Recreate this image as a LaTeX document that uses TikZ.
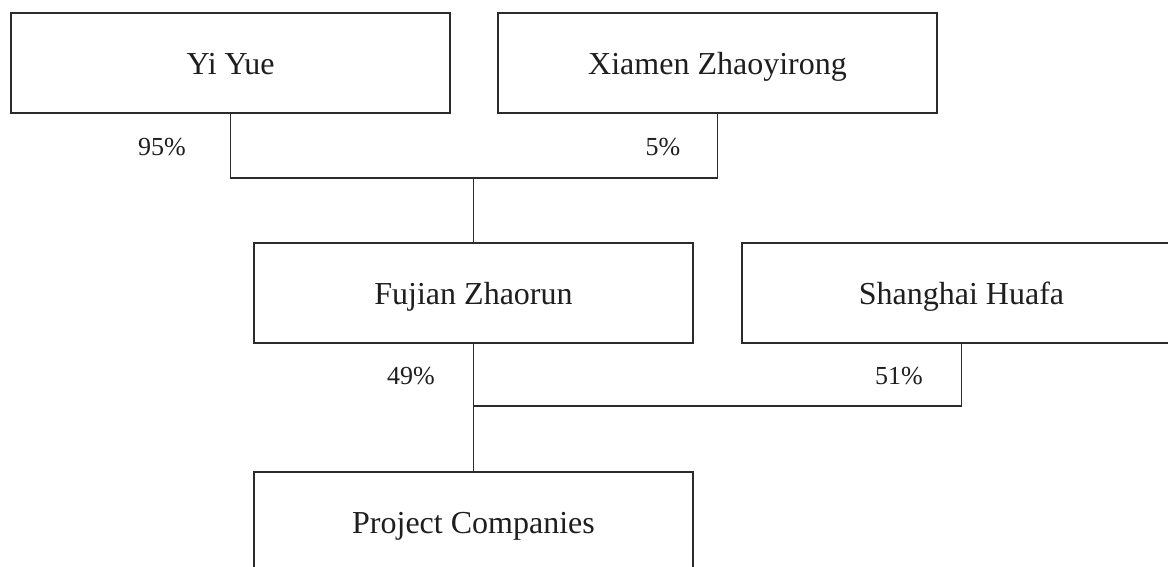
\documentclass[tikz,border=0pt]{standalone}
\usepackage{fontspec}
\setmainfont{Liberation Serif}
\definecolor{linec}{HTML}{2B2B2B}
\definecolor{textc}{HTML}{1E1E1E}
\begin{document}
\begin{tikzpicture}[x=1pt,y=-1pt,
  entity/.style={draw=linec, line width=1.3pt, fill=white, minimum width=439pt, minimum height=100pt, inner sep=0pt, text height=22pt, text depth=0pt, text=textc, font=\fontsize{32}{38}\selectfont},
  pct/.style={inner sep=0pt, text=textc, font=\fontsize{26}{31}\selectfont},
  link/.style={draw=linec, line width=1.3pt}]
\useasboundingbox (0,0) rectangle (1168,566);
\clip (0,0) rectangle (1168,566);
\fill[white] (0,0) rectangle (1168,566);
\node[entity] (yiyue) at (230.5,63) {Yi Yue};
\node[entity] (xiamen) at (717.5,63) {Xiamen Zhaoyirong};
\node[entity] (fujian) at (473.5,293) {Fujian Zhaorun};
\node[entity] (shanghai) at (961.5,293) {Shanghai Huafa};
\node[entity] (project) at (473.5,522) {Project Companies};
\coordinate (j1) at (473.5,178);
\coordinate (j2) at (473.5,406);
\draw[link] (yiyue.south) -- (yiyue.south |- j1) -- (xiamen.south |- j1) -- (xiamen.south);
\draw[link] (j1) -- (fujian.north);
\draw[link] (fujian.south) -- (project.north);
\draw[link] (j2) -- (j2 -| shanghai.south) -- (shanghai.south);
\node[pct] (p95) at (162,147) {95\%};
\node[pct] (p5) at (663,147) {5\%};
\node[pct] (p49) at (411,376) {49\%};
\node[pct] (p51) at (899,376) {51\%};
\end{tikzpicture}
\end{document}
